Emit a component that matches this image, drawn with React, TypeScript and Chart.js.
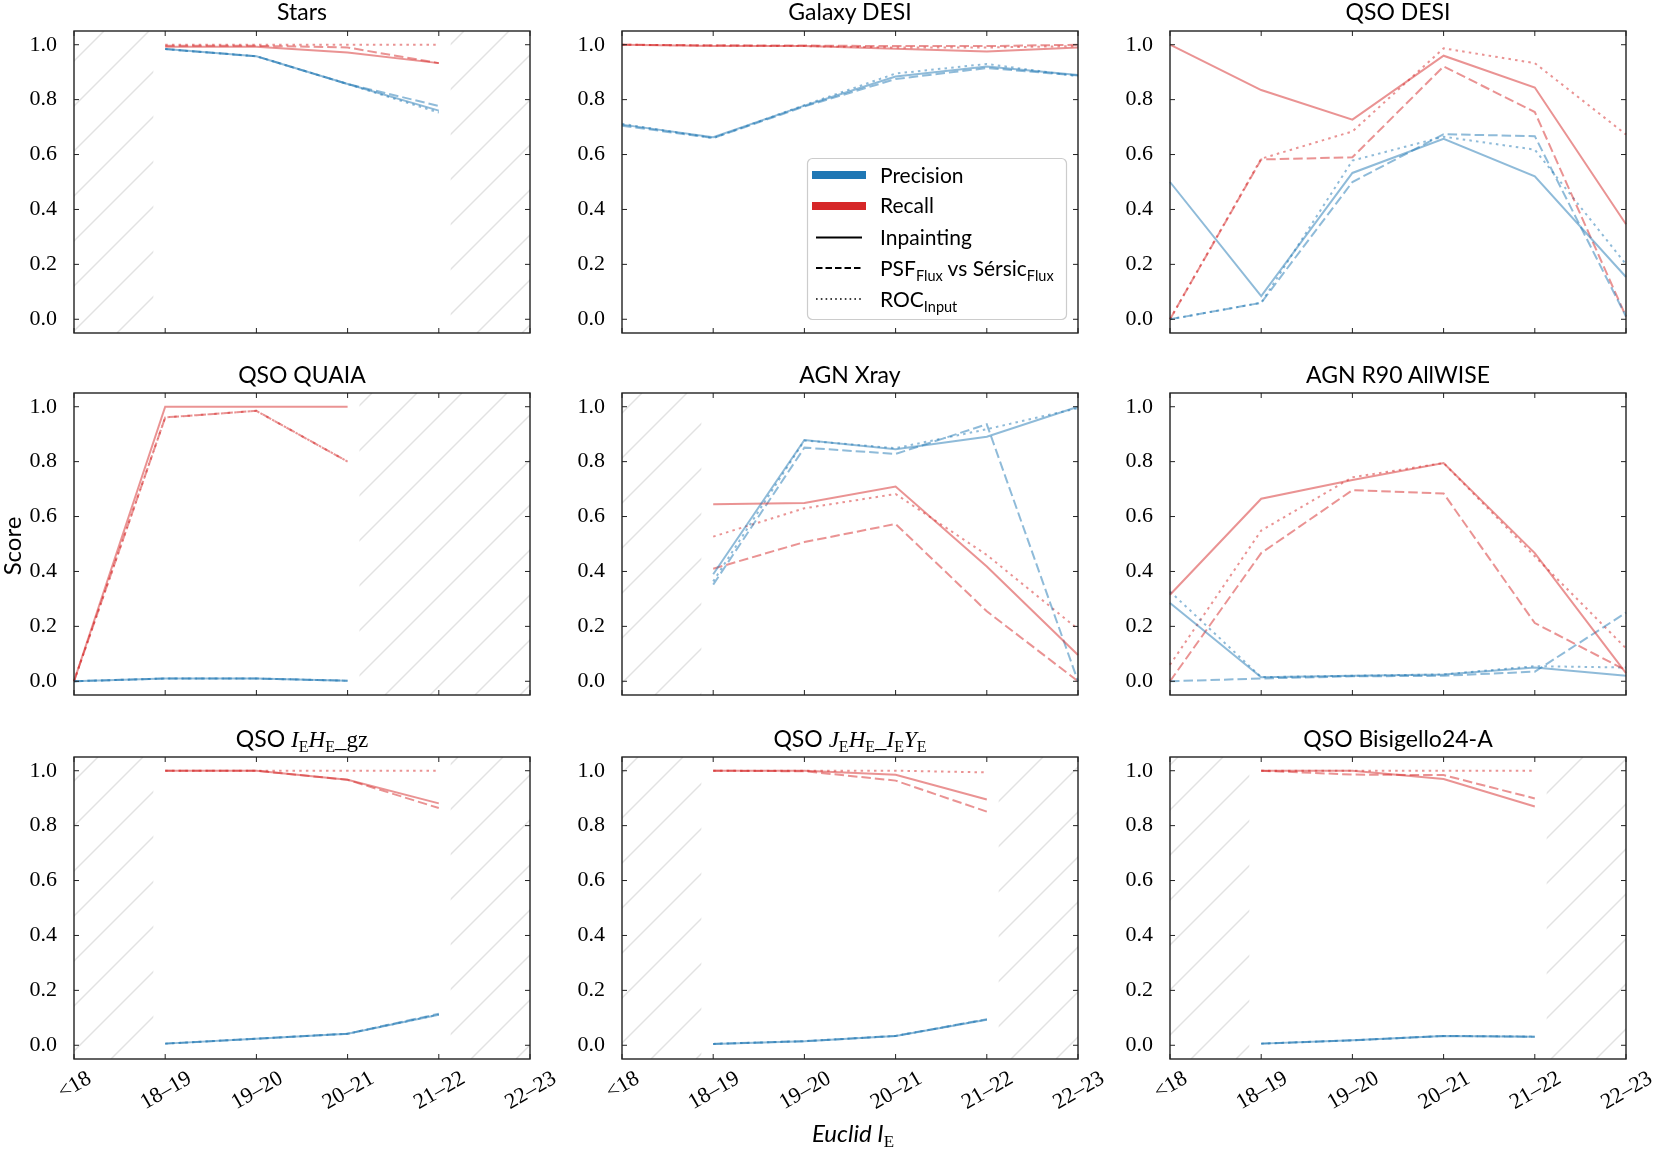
import React, { useEffect, useRef } from "react";
import { Chart, registerables } from "chart.js";

Chart.register(...registerables);

// ---------- data ----------
const categories = ["<18", "18–19", "19–20", "20–21", "21–22", "22–23"];
const yTicks = [0, 0.2, 0.4, 0.6, 0.8, 1.0];

// Stars
const starsPrecInp = [null, 0.984, 0.958, 0.857, 0.76, null];
const starsPrecPsf = [null, 0.984, 0.958, 0.857, 0.777, null];
const starsPrecRoc = [null, 0.984, 0.958, 0.857, 0.753, null];
const starsRecInp = [null, 0.993, 0.993, 0.972, 0.933, null];
const starsRecPsf = [null, 0.996, 0.996, 0.99, 0.933, null];
const starsRecRoc = [null, 1.0, 1.0, 1.0, 1.0, null];

// Galaxy DESI
const galPrecInp = [0.709, 0.663, 0.778, 0.884, 0.921, 0.89];
const galPrecPsf = [0.705, 0.66, 0.775, 0.875, 0.915, 0.888];
const galPrecRoc = [0.712, 0.66, 0.78, 0.895, 0.93, 0.885];
const galRecInp = [1.0, 0.995, 0.995, 0.985, 0.975, 0.99];
const galRecPsf = [1.0, 0.998, 0.997, 0.995, 0.995, 1.0];
const galRecRoc = [1.0, 0.997, 0.995, 0.99, 0.99, 0.995];

// QSO DESI
const qdPrecInp = [0.5, 0.084, 0.533, 0.657, 0.521, 0.154];
const qdPrecPsf = [0.0, 0.06, 0.5, 0.674, 0.667, 0.01];
const qdPrecRoc = [0.0, 0.06, 0.578, 0.665, 0.618, 0.2];
const qdRecInp = [1.0, 0.835, 0.727, 0.96, 0.844, 0.346];
const qdRecPsf = [0.0, 0.582, 0.59, 0.921, 0.755, 0.01];
const qdRecRoc = [0.0, 0.585, 0.684, 0.987, 0.933, 0.673];

// QSO QUAIA
const quaiaPrecInp = [0.0, 0.01, 0.01, 0.002, null, null];
const quaiaPrecPsf = [0.0, 0.01, 0.01, 0.002, null, null];
const quaiaPrecRoc = [0.0, 0.01, 0.01, 0.002, null, null];
const quaiaRecInp = [0.0, 1.0, 1.0, 1.0, null, null];
const quaiaRecPsf = [0.0, 0.961, 0.985, 0.8, null, null];
const quaiaRecRoc = [0.0, 0.961, 0.985, 0.8, null, null];

// AGN Xray
const xrayPrecInp = [null, 0.39, 0.879, 0.845, 0.891, 1.0];
const xrayPrecPsf = [null, 0.352, 0.851, 0.828, 0.936, 0.0];
const xrayPrecRoc = [null, 0.364, 0.877, 0.849, 0.918, 0.995];
const xrayRecInp = [null, 0.645, 0.649, 0.709, 0.418, 0.096];
const xrayRecPsf = [null, 0.41, 0.507, 0.573, 0.255, 0.0];
const xrayRecRoc = [null, 0.527, 0.63, 0.682, 0.46, 0.19];

// AGN R90 AllWISE
const r90PrecInp = [0.285, 0.015, 0.02, 0.025, 0.05, 0.02];
const r90PrecPsf = [0.0, 0.01, 0.018, 0.02, 0.035, 0.25];
const r90PrecRoc = [0.327, 0.015, 0.02, 0.025, 0.055, 0.05];
const r90RecInp = [0.315, 0.665, 0.733, 0.795, 0.467, 0.03];
const r90RecPsf = [0.0, 0.467, 0.696, 0.684, 0.212, 0.04];
const r90RecRoc = [0.06, 0.549, 0.743, 0.795, 0.455, 0.12];

// QSO IE HE gz
const ihPrecInp = [null, 0.006, 0.024, 0.042, 0.111, null];
const ihPrecPsf = [null, 0.006, 0.024, 0.042, 0.115, null];
const ihPrecRoc = [null, 0.006, 0.024, 0.042, 0.112, null];
const ihRecInp = [null, 1.0, 1.0, 0.967, 0.881, null];
const ihRecPsf = [null, 1.0, 1.0, 0.967, 0.864, null];
const ihRecRoc = [null, 1.0, 1.0, 1.0, 1.0, null];

// QSO JE HE IE YE
const jhPrecInp = [null, 0.005, 0.015, 0.034, 0.093, null];
const jhPrecPsf = [null, 0.005, 0.015, 0.034, 0.095, null];
const jhPrecRoc = [null, 0.005, 0.015, 0.034, 0.094, null];
const jhRecInp = [null, 1.0, 1.0, 0.985, 0.895, null];
const jhRecPsf = [null, 1.0, 0.998, 0.964, 0.851, null];
const jhRecRoc = [null, 1.0, 1.0, 1.0, 0.994, null];

// QSO Bisigello24-A
const bisPrecInp = [null, 0.006, 0.018, 0.034, 0.031, null];
const bisPrecPsf = [null, 0.006, 0.018, 0.034, 0.031, null];
const bisPrecRoc = [null, 0.006, 0.018, 0.034, 0.032, null];
const bisRecInp = [null, 1.0, 1.0, 0.97, 0.87, null];
const bisRecPsf = [null, 1.0, 0.986, 0.984, 0.899, null];
const bisRecRoc = [null, 1.0, 1.0, 1.0, 1.0, null];

type Series = (number | null)[];
type Panel = { row: number; col: number; prec: Series[]; rec: Series[] };

const panels: Panel[] = [
  { row: 0, col: 0, prec: [starsPrecInp, starsPrecPsf, starsPrecRoc], rec: [starsRecInp, starsRecPsf, starsRecRoc] },
  { row: 0, col: 1, prec: [galPrecInp, galPrecPsf, galPrecRoc], rec: [galRecInp, galRecPsf, galRecRoc] },
  { row: 0, col: 2, prec: [qdPrecInp, qdPrecPsf, qdPrecRoc], rec: [qdRecInp, qdRecPsf, qdRecRoc] },
  { row: 1, col: 0, prec: [quaiaPrecInp, quaiaPrecPsf, quaiaPrecRoc], rec: [quaiaRecInp, quaiaRecPsf, quaiaRecRoc] },
  { row: 1, col: 1, prec: [xrayPrecInp, xrayPrecPsf, xrayPrecRoc], rec: [xrayRecInp, xrayRecPsf, xrayRecRoc] },
  { row: 1, col: 2, prec: [r90PrecInp, r90PrecPsf, r90PrecRoc], rec: [r90RecInp, r90RecPsf, r90RecRoc] },
  { row: 2, col: 0, prec: [ihPrecInp, ihPrecPsf, ihPrecRoc], rec: [ihRecInp, ihRecPsf, ihRecRoc] },
  { row: 2, col: 1, prec: [jhPrecInp, jhPrecPsf, jhPrecRoc], rec: [jhRecInp, jhRecPsf, jhRecRoc] },
  { row: 2, col: 2, prec: [bisPrecInp, bisPrecPsf, bisPrecRoc], rec: [bisRecInp, bisRecPsf, bisRecRoc] },
];

// ---------- layout / style ----------
const PANEL_W = 456;
const PANEL_H = 302;
const colLefts = [74, 622, 1170];
const rowTops = [31, 393, 757];
const PAD_L = 60;
const PAD_T = 10;
const PAD_R = 34;
const HATCH_GAP = 0.13;

const precColor = "rgba(31,119,180,0.5)";
const recColor = "rgba(214,39,40,0.5)";
const methodDash: number[][] = [[], [9.5, 4], [2.5, 4.2]];

const SANS = "Lato, 'DejaVu Sans', sans-serif";
const SERIF = "'Liberation Serif', 'DejaVu Serif', serif";

function hatchSpans(p: Panel): number[][] {
  const all = [...p.prec, ...p.rec];
  let first = categories.length - 1;
  let last = 0;
  all.forEach((s) =>
    s.forEach((v, i) => {
      if (v !== null) {
        first = Math.min(first, i);
        last = Math.max(last, i);
      }
    })
  );
  const spans: number[][] = [];
  if (first > 0) spans.push([0, first - HATCH_GAP]);
  if (last < categories.length - 1) spans.push([last + HATCH_GAP, categories.length - 1]);
  return spans;
}

const hatchPlugin = {
  id: "hatch",
  beforeDatasetsDraw(chart: any, _args: any, opts: any) {
    const { ctx, chartArea, scales } = chart;
    const { top, bottom } = chartArea;
    const x = scales.x;
    (opts.spans || []).forEach(([a, b]: number[]) => {
      const x0 = x.getPixelForValue(a);
      const x1 = x.getPixelForValue(b);
      ctx.save();
      ctx.beginPath();
      ctx.rect(x0, top, x1 - x0, bottom - top);
      ctx.clip();
      ctx.strokeStyle = "#e2e2e2";
      ctx.lineWidth = 1.4;
      const S = 45;
      const off = opts.offset || 0;
      const cStart = Math.floor((x0 + top + off) / S) * S - off - S;
      for (let c = cStart; c <= x1 + bottom + S; c += S) {
        ctx.beginPath();
        ctx.moveTo(c - bottom, bottom);
        ctx.lineTo(c - top, top);
        ctx.stroke();
      }
      ctx.restore();
    });
  },
};

const framePlugin = {
  id: "frame",
  afterDraw(chart: any) {
    const { ctx, chartArea, scales } = chart;
    const { left, right, top, bottom } = chartArea;
    ctx.save();
    ctx.strokeStyle = "#222";
    ctx.lineWidth = 1.4;
    ctx.strokeRect(left, top, right - left, bottom - top);
    ctx.lineWidth = 1;
    const L = 5;
    ctx.beginPath();
    yTicks.forEach((v) => {
      const py = scales.y.getPixelForValue(v);
      ctx.moveTo(left, py);
      ctx.lineTo(left + L, py);
      ctx.moveTo(right, py);
      ctx.lineTo(right - L, py);
    });
    categories.forEach((_c, i) => {
      const px = scales.x.getPixelForValue(i);
      ctx.moveTo(px, top);
      ctx.lineTo(px, top + L);
      ctx.moveTo(px, bottom);
      ctx.lineTo(px, bottom - L);
    });
    ctx.stroke();
    ctx.restore();
  },
};

const xLabelPlugin = {
  id: "xlabels",
  afterDraw(chart: any, _args: any, opts: any) {
    if (!opts.show) return;
    const { ctx, chartArea, scales } = chart;
    ctx.save();
    ctx.font = `22px ${SERIF}`;
    ctx.fillStyle = "#000";
    ctx.textAlign = "center";
    ctx.textBaseline = "alphabetic";
    const a = Math.PI / 6;
    const h = 15;
    categories.forEach((lab, i) => {
      const px = scales.x.getPixelForValue(i);
      const w = ctx.measureText(lab).width;
      const bh = w * Math.sin(a) + h * Math.cos(a);
      const cy = chartArea.bottom + 10 + bh / 2;
      ctx.save();
      ctx.translate(px, cy);
      ctx.rotate(-a);
      ctx.fillText(lab, 0, h / 2);
      ctx.restore();
    });
    ctx.restore();
  },
};

function PanelChart({ panel }: { panel: Panel }) {
  const ref = useRef<HTMLCanvasElement>(null);
  const bottomRow = panel.row === 2;
  const xH = bottomRow ? 80 : 10;
  const W = PAD_L + PANEL_W + PAD_R;
  const H = PAD_T + PANEL_H + xH;
  const left = colLefts[panel.col] - PAD_L;
  const top = rowTops[panel.row] - PAD_T;

  useEffect(() => {
    if (!ref.current) return;
    const datasets: any[] = [];
    [0, 1, 2].forEach((m) => {
      datasets.push({
        label: `Precision ${m}`,
        data: panel.prec[m],
        borderColor: precColor,
        borderDash: methodDash[m],
        borderWidth: 2,
        pointRadius: 0,
        fill: false,
        tension: 0,
        spanGaps: false,
      });
      datasets.push({
        label: `Recall ${m}`,
        data: panel.rec[m],
        borderColor: recColor,
        borderDash: methodDash[m],
        borderWidth: 2,
        pointRadius: 0,
        fill: false,
        tension: 0,
        spanGaps: false,
      });
    });
    const chart = new Chart(ref.current, {
      type: "line",
      data: { labels: categories, datasets },
      options: {
        responsive: false,
        maintainAspectRatio: false,
        animation: false,
        events: [],
        layout: { padding: { left: 0, top: PAD_T, right: PAD_R, bottom: 0 } },
        plugins: {
          legend: { display: false },
          tooltip: { enabled: false },
          title: { display: false },
          hatch: { spans: hatchSpans(panel), offset: left + top },
          xlabels: { show: bottomRow },
        } as any,
        scales: {
          x: {
            type: "category",
            grid: { display: false },
            border: { display: false },
            ticks: { display: false },
            afterFit: (s: any) => {
              s.height = xH;
              s.paddingLeft = 0;
              s.paddingRight = 0;
            },
          },
          y: {
            type: "linear",
            min: -0.05,
            max: 1.05,
            grid: { display: false },
            border: { display: false },
            afterBuildTicks: (s: any) => {
              s.ticks = yTicks.map((v) => ({ value: v }));
            },
            ticks: {
              padding: 9,
              color: "#000",
              font: { family: SERIF, size: 22 },
              callback: (v: any) => Number(v).toFixed(1),
            },
            afterFit: (s: any) => {
              s.width = PAD_L;
              s.paddingTop = 0;
              s.paddingBottom = 0;
            },
          },
        },
      } as any,
      plugins: [hatchPlugin, framePlugin, xLabelPlugin] as any,
    });
    return () => chart.destroy();
  }, []);

  return (
    <canvas
      ref={ref}
      width={W}
      height={H}
      style={{ position: "absolute", left, top, width: W, height: H }}
    />
  );
}

const titleBaselines = [19.5, 382.5, 746.5];

function Titles() {
  const cx = (c: number) => colLefts[c] + PANEL_W / 2;
  const common = { textAnchor: "middle" as const, fontFamily: SANS, fontSize: 23, fill: "#000" };
  const mi = { fontFamily: SERIF, fontStyle: "italic" as const };
  return (
    <g>
      <text x={cx(0)} y={titleBaselines[0]} {...common}>Stars</text>
      <text x={cx(1)} y={titleBaselines[0]} {...common}>Galaxy DESI</text>
      <text x={cx(2)} y={titleBaselines[0]} {...common}>QSO DESI</text>
      <text x={cx(0)} y={titleBaselines[1]} {...common}>QSO QUAIA</text>
      <text x={cx(1)} y={titleBaselines[1]} {...common}>AGN Xray</text>
      <text x={cx(2)} y={titleBaselines[1]} {...common}>AGN R90 AllWISE</text>
      <text x={cx(0)} y={titleBaselines[2]} {...common}>
        QSO{" "}
        <tspan {...mi}>I</tspan>
        <tspan dy={5} fontSize={16} fontFamily={SERIF}>E</tspan>
        <tspan dy={-5} {...mi}>H</tspan>
        <tspan dy={5} fontSize={16} fontFamily={SERIF}>E</tspan>
        <tspan dy={-5} fontFamily={SERIF}>_gz</tspan>
      </text>
      <text x={cx(1)} y={titleBaselines[2]} {...common}>
        QSO{" "}
        <tspan {...mi}>J</tspan>
        <tspan dy={5} fontSize={16} fontFamily={SERIF}>E</tspan>
        <tspan dy={-5} {...mi}>H</tspan>
        <tspan dy={5} fontSize={16} fontFamily={SERIF}>E</tspan>
        <tspan dy={-5} fontFamily={SERIF}>_</tspan>
        <tspan {...mi}>I</tspan>
        <tspan dy={5} fontSize={16} fontFamily={SERIF}>E</tspan>
        <tspan dy={-5} {...mi}>Y</tspan>
        <tspan dy={5} fontSize={16} fontFamily={SERIF}>E</tspan>
      </text>
      <text x={cx(2)} y={titleBaselines[2]} {...common}>QSO Bisigello24-A</text>
    </g>
  );
}

function Legend() {
  const x0 = 807.5;
  const y0 = 158.5;
  const tx = 880;
  const hx1 = 812;
  const hx2 = 866;
  const fs = 21;
  return (
    <g>
      <rect x={x0} y={y0} width={259} height={161} rx={5} ry={5} fill="rgba(255,255,255,0.85)" stroke="#cccccc" strokeWidth={1.2} />
      <line x1={hx1} x2={hx2} y1={175} y2={175} stroke="#1f77b4" strokeWidth={8} />
      <line x1={hx1} x2={hx2} y1={206} y2={206} stroke="#d62728" strokeWidth={8} />
      <line x1={816} x2={862} y1={237.5} y2={237.5} stroke="#000" strokeWidth={2} />
      <line x1={816} x2={862} y1={268} y2={268} stroke="#000" strokeWidth={1.8} strokeDasharray="6.5 3" />
      <line x1={816} x2={862} y1={299} y2={299} stroke="#000" strokeWidth={1.6} strokeDasharray="1.6 3.2" />
      <g fontFamily={SANS} fontSize={fs} fill="#000">
        <text x={tx} y={182.7}>Precision</text>
        <text x={tx} y={213.3}>Recall</text>
        <text x={tx} y={245}>Inpainting</text>
        <text x={tx} y={276}>
          PSF<tspan dy={5} fontSize={14.5}>Flux</tspan>
          <tspan dy={-5}> vs Sérsic</tspan>
          <tspan dy={5} fontSize={14.5}>Flux</tspan>
        </text>
        <text x={tx} y={307}>
          ROC<tspan dy={5} fontSize={14.5}>Input</tspan>
        </text>
      </g>
    </g>
  );
}

function AxisLabels() {
  return (
    <g fill="#000">
      <text x={853} y={1142} textAnchor="middle" fontSize={24}>
        <tspan fontFamily={SANS} fontStyle="italic">Euclid </tspan>
        <tspan fontFamily={SANS} fontStyle="italic">I</tspan>
        <tspan dy={5} fontSize={17} fontFamily={SERIF}>E</tspan>
      </text>
      <text x={21} y={546} textAnchor="middle" fontSize={24} fontFamily={SANS} transform="rotate(-90 21 546)">
        Score
      </text>
    </g>
  );
}

export default function App() {
  return (
    <div style={{ position: "absolute", left: 0, top: 0, width: 1661, height: 1151, background: "#fff", overflow: "hidden" }}>
      {panels.map((p, i) => (
        <PanelChart key={i} panel={p} />
      ))}
      <svg width={1661} height={1151} style={{ position: "absolute", left: 0, top: 0, pointerEvents: "none" }}>
        <Titles />
        <Legend />
        <AxisLabels />
      </svg>
    </div>
  );
}
